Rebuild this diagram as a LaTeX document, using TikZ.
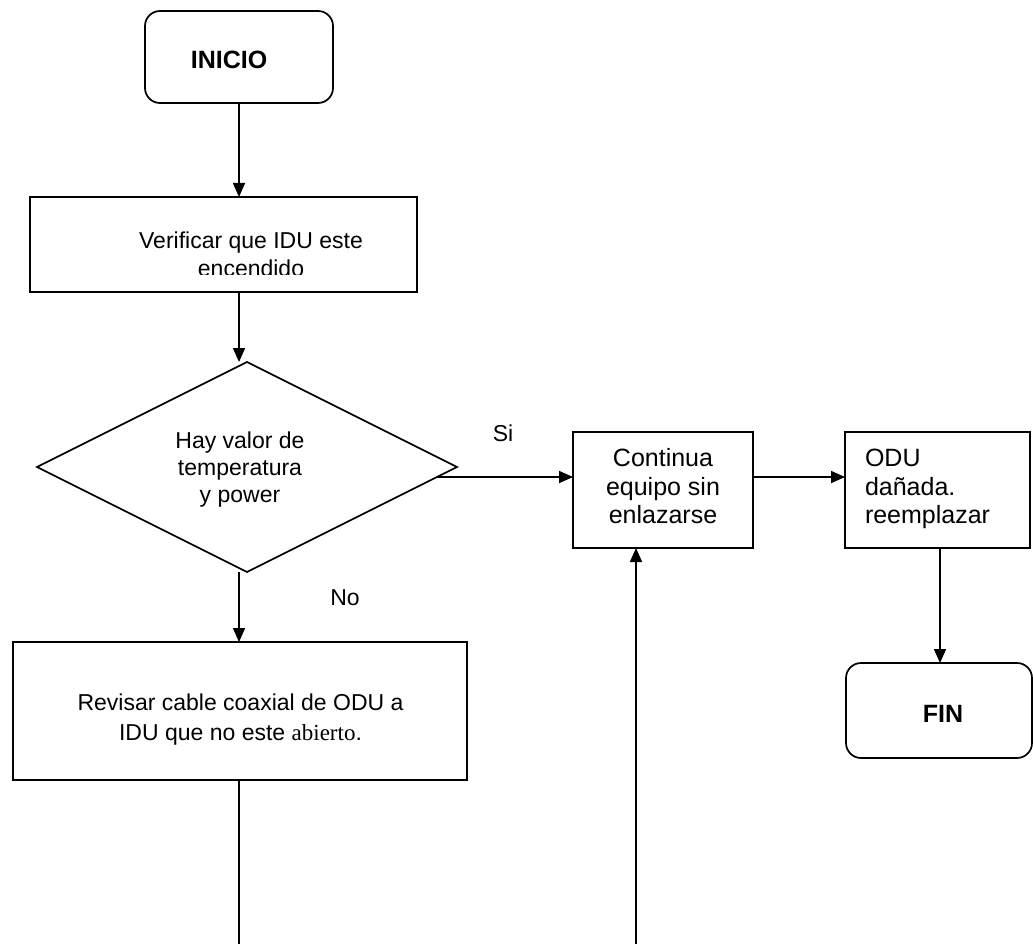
\documentclass[tikz,border=0pt]{standalone}
\usepackage{fontspec}
\setmainfont{Liberation Sans}
\newfontfamily\serifface{Liberation Serif}
\usetikzlibrary{arrows.meta,shapes.geometric,calc}

\begin{document}
\begin{tikzpicture}[x=1pt,y=-1pt,
  line width=1.6pt,
  every node/.style={inner sep=0pt, outer sep=0pt},
  procbox/.style={draw, rectangle, line width=1.6pt},
  termbox/.style={draw, rectangle, rounded corners=15pt, line width=1.7pt},
  decbox/.style={draw, diamond, line width=1.6pt},
  flowarrow/.style={-{Triangle[length=14pt,width=12pt]}},
  bodytxt/.style={font=\fontsize{23}{28}\selectfont, align=center, anchor=base},
  widetxt/.style={font=\fontsize{25}{28.5}\selectfont, anchor=base},
  boldtxt/.style={font=\fontsize{25}{30}\selectfont\bfseries, anchor=base},
]
% page frame
\useasboundingbox (0,0) rectangle (1033,944);

% ---- shapes ----
\node[termbox, minimum width=188pt, minimum height=92pt] (inicio) at (239,57) {};
\node[procbox, minimum width=387pt, minimum height=95pt] (verif) at (223.5,244.5) {};
\node[decbox, minimum width=420pt, minimum height=210pt] (dec) at (247,467) {};
\node[procbox, minimum width=180pt, minimum height=116pt] (cont) at (663,490) {};
\node[procbox, minimum width=185pt, minimum height=116pt] (odu) at (937.5,490) {};
\node[termbox, minimum width=186pt, minimum height=95pt] (fin) at (939,710.5) {};
\node[procbox, minimum width=454pt, minimum height=138pt] (rev) at (240,711) {};

% ---- texts ----
\node[boldtxt] (inicioT) at (229,69) {INICIO};
\begin{scope}
  \clip (31,198) rectangle (416,274.5);
  \node[bodytxt] (verifT1) at (251,248) {Verificar que IDU este};
  \node[bodytxt] (verifT2) at (251,276) {encendido};
\end{scope}
\node[bodytxt] (decT1) at (240,448) {Hay valor de};
\node[bodytxt] (decT2) at (240,475) {temperatura};
\node[bodytxt] (decT3) at (240,502) {y power};
\node[widetxt] (contT1) at (663,466.5) {Continua};
\node[widetxt] (contT2) at (663,495) {equipo sin};
\node[widetxt] (contT3) at (663,523.5) {enlazarse};
\node[widetxt, anchor=base west] (oduT1) at (865,466.5) {ODU};
\node[widetxt, anchor=base west] (oduT2) at (865,495) {dañada.};
\node[widetxt, anchor=base west] (oduT3) at (865,523.5) {reemplazar};
\node[boldtxt] (finT) at (943,722.5) {FIN};
\node[bodytxt] (revT1) at (240.5,710) {Revisar cable coaxial de ODU a};
\node[bodytxt] (revT2) at (240.5,740) {IDU que no este {\serifface abierto}.};
\node[bodytxt] (siT) at (503,441.5) {Si};
\node[bodytxt] (noT) at (345,605) {No};

% ---- connector ends ----
\coordinate (siStart) at ($(dec.east)+(-20,10)$);
\coordinate (contOut) at ($(cont.east)+(0,-13)$);
\coordinate (revEnd) at (239,944);
\coordinate (loopStart) at (636,944);

% ---- connectors ----
\draw[flowarrow] (inicio.south) -- (inicio.south |- verif.north);
\draw[flowarrow] (inicio.south |- verif.south) -- (inicio.south |- dec.north);
\draw[flowarrow] (siStart) -- (siStart -| cont.west);
\draw[flowarrow] (contOut) -- (contOut -| odu.west);
\draw[flowarrow] (940,548) -- (fin.north -| 940,0);
\draw[flowarrow] (inicio.south |- dec.south) -- (inicio.south |- rev.north);
\draw (inicio.south |- rev.south) -- (revEnd);
\draw[flowarrow] (loopStart) -- (loopStart |- cont.south);
\end{tikzpicture}
\end{document}
